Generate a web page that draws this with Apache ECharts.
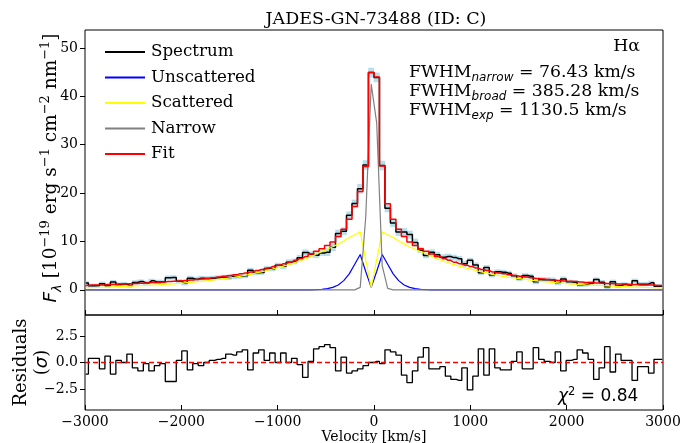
<!DOCTYPE html>
<html><head><meta charset="utf-8">
<script src="https://cdn.jsdelivr.net/npm/echarts@6/dist/echarts.min.js"></script>
<style>html,body{margin:0;padding:0;background:#fff}#c{width:698px;height:443px}</style>
</head><body><div id="c"></div>
<script>
const velocity = [
-2993,-2936,-2879,-2822,-2765,-2708,-2651,-2594,-2537,-2480,
-2423,-2366,-2309,-2252,-2195,-2138,-2081,-2024,-1967,-1910,
-1853,-1796,-1739,-1682,-1625,-1568,-1511,-1454,-1397,-1340,
-1283,-1226,-1169,-1112,-1055,-998,-941,-884,-827,-770,
-713,-656,-599,-542,-485,-428,-371,-314,-257,-200,
-143,-86,-29,28,85,142,199,256,313,370,
427,484,541,598,655,712,769,826,883,940,
997,1054,1111,1168,1225,1282,1339,1396,1453,1510,
1567,1624,1681,1738,1795,1852,1909,1966,2023,2080,
2137,2194,2251,2308,2365,2422,2479,2536,2593,2650,
2707,2764,2821,2878,2935,2992];

const spectrum = [
1.4,0.82,0.82,1.27,0.83,1.6,1.11,1.2,0.89,1.53,
1.71,1.45,1.86,1.64,1.65,2.51,2.56,1.76,1.4,2.4,
2.2,2.4,2.35,2.4,2.5,2.6,2.55,2.75,2.8,2.9,
4.05,3.55,3.6,4.4,4.35,5.1,4.86,5.7,5.86,6.62,
7.74,7.34,7.17,7.6,7.79,8.78,11.64,12.1,15.4,17.84,
20.9,25.8,44.9,43.9,25.7,16.84,13.8,11.94,11.96,11.42,
9.79,8.2,7.11,7.76,7.26,6.74,6.88,6.66,6.42,5.4,
6.1,5.15,3.55,4.6,3.05,3.75,3.65,3.45,2.9,2.3,
2.95,2.8,1.65,2.1,2.1,2.05,1.45,2.25,1.66,1.56,
1.06,1.1,1.36,2.12,1.58,0.62,1.65,0.84,1.11,1.01,
1.87,1.18,1.18,1.45,0.76,0.76];

const errorSigma = [
0.45,0.45,0.45,0.45,0.45,0.45,0.45,0.45,0.45,0.45,
0.45,0.45,0.45,0.45,0.45,0.45,0.45,0.45,0.5,0.5,
0.5,0.5,0.5,0.5,0.5,0.5,0.5,0.5,0.5,0.5,
0.5,0.5,0.5,0.5,0.5,0.5,0.6,0.6,0.6,0.6,
0.6,0.6,0.6,0.6,0.8,0.8,0.8,0.8,0.8,0.8,
1.0,1.0,1.0,1.0,1.0,0.8,0.8,0.8,0.8,0.8,
0.8,0.6,0.6,0.6,0.6,0.6,0.6,0.6,0.6,0.6,
0.5,0.5,0.5,0.5,0.5,0.5,0.5,0.5,0.5,0.5,
0.5,0.5,0.5,0.5,0.5,0.5,0.5,0.5,0.45,0.45,
0.45,0.45,0.45,0.45,0.45,0.45,0.45,0.45,0.45,0.45,
0.45,0.45,0.45,0.45,0.45,0.45];

const unscattered = [
0,0,0,0,0,0,0,0,0,0,
0,0,0,0,0,0,0,0,0,0,
0,0,0,0,0,0,0,0,0,0,
0,0,0,0,0,0,0,0,0,0,
0,0,0.04,0.1,0.25,0.5,1.0,1.9,3.3,5.3,
7.3,3.8,0.5,3.8,7.3,5.3,3.3,1.9,1.0,0.5,
0.25,0.1,0.04,0,0,0,0,0,0,0,
0,0,0,0,0,0,0,0,0,0,
0,0,0,0,0,0,0,0,0,0,
0,0,0,0,0,0,0,0,0,0,
0,0,0,0,0,0];

const scattered = [
0.44,0.47,0.5,0.54,0.58,0.62,0.66,0.7,0.75,0.8,
0.85,0.91,0.97,1.03,1.1,1.17,1.25,1.35,1.45,1.55,
1.65,1.75,1.85,2.0,2.15,2.3,2.45,2.6,2.8,3.0,
3.2,3.5,3.7,4.0,4.3,4.6,4.9,5.2,5.6,6.0,
6.4,6.9,7.4,7.9,8.4,8.9,9.5,10.1,10.8,11.4,
12.0,6.2,0.5,6.2,12.0,11.4,10.8,10.1,9.5,8.9,
8.4,7.9,7.4,6.9,6.4,6.0,5.6,5.2,4.9,4.6,
4.3,4.0,3.7,3.5,3.2,3.0,2.8,2.6,2.45,2.3,
2.15,2.0,1.85,1.75,1.65,1.55,1.45,1.35,1.25,1.17,
1.1,1.03,0.97,0.91,0.85,0.8,0.75,0.7,0.66,0.62,
0.58,0.54,0.5,0.47,0.44,0.41];

const narrow = [
0,0,0,0,0,0,0,0,0,0,
0,0,0,0,0,0,0,0,0,0,
0,0,0,0,0,0,0,0,0,0,
0,0,0,0,0,0,0,0,0,0,
0,0,0,0,0,0,0,0,0,0,
0.5,15,42.5,34.5,5,0.3,0,0,0,0,
0,0,0,0,0,0,0,0,0,0,
0,0,0,0,0,0,0,0,0,0,
0,0,0,0,0,0,0,0,0,0,
0,0,0,0,0,0,0,0,0,0,
0,0,0,0,0,0];

const fit = [
0.9,1.0,1.0,1.0,1.1,1.1,1.2,1.2,1.25,1.3,
1.35,1.4,1.5,1.5,1.6,1.7,1.75,1.85,1.95,2.05,
2.15,2.25,2.35,2.5,2.65,2.8,2.95,3.1,3.3,3.5,
3.7,4.0,4.2,4.5,4.8,5.1,5.4,5.7,6.1,6.5,
6.9,7.4,7.95,8.5,9.15,9.9,11.0,12.5,14.6,17.2,
20.3,25.5,44.9,44.0,25.6,17.8,14.6,12.5,11.0,9.9,
9.15,8.5,7.95,7.4,6.9,6.5,6.1,5.7,5.4,5.1,
4.8,4.5,4.2,4.0,3.7,3.5,3.3,3.1,2.95,2.8,
2.65,2.5,2.35,2.25,2.15,2.05,1.95,1.85,1.75,1.7,
1.6,1.5,1.5,1.4,1.35,1.3,1.25,1.2,1.2,1.1,
1.1,1.0,1.0,1.0,0.9,0.9];

const residuals = [
-1.1,0.4,0.4,-0.6,0.6,-1.1,0.2,0.0,0.8,-0.5,
-0.8,-0.1,-0.8,-0.3,-0.1,-1.8,-1.8,0.2,1.1,-0.7,
-0.1,-0.3,0.0,0.2,0.3,0.4,0.8,0.7,1.0,1.2,
-0.7,0.9,1.2,0.2,0.9,0.0,0.9,0.0,0.4,-0.2,
-1.4,0.1,1.3,1.5,1.7,1.4,-0.8,0.5,-1.0,-0.8,
-0.6,-0.3,0.0,0.1,-0.1,1.2,1.0,0.7,-1.2,-1.9,
-0.8,0.5,1.4,-0.6,-0.6,-0.4,-1.3,-1.6,-1.7,-0.5,
-2.6,-1.3,1.3,-1.2,1.3,-0.5,-0.7,-0.7,0.1,1.0,
-0.6,-0.6,1.4,0.3,0.1,0.0,1.0,-0.8,0.2,0.3,
1.2,0.9,0.3,-1.6,-0.5,1.5,-0.9,0.8,0.2,0.2,
-1.7,-0.4,-0.4,-1.0,0.3,0.3];

const mainYTicks = [0, 10, 20, 30, 40, 50];
const residYTicks = [-2.5, 0, 2.5];
const legendNames = ['Spectrum', 'Unscattered', 'Scattered', 'Narrow', 'Fit'];
const titleText = 'JADES-GN-73488 (ID: C)';
const chi2Text = '0.84';
const fwhmNarrow = '76.43', fwhmBroad = '385.28', fwhmExp = '1130.5';

const SERIF = 'DejaVu Serif', SANS = 'DejaVu Sans';
const pair = ys => velocity.map((v, i) => [v, ys[i]]);
const minus = s => String(s).replace('-', '\u2212');

// step-bin edges (midpoints between neighbouring samples, like matplotlib where='mid')
const edges = velocity.map((v, i) => {
  const l = i === 0 ? v : (velocity[i - 1] + v) / 2;
  const r = i === velocity.length - 1 ? v : (velocity[i + 1] + v) / 2;
  return [l, r];
});
const bandData = velocity.map((v, i) => [v, spectrum[i] - errorSigma[i], spectrum[i] + errorSigma[i], edges[i][0], edges[i][1]]);

const chart = echarts.init(document.getElementById('c'), null, {renderer: 'canvas'});

const lineSeries = (name, ys, color, width, step, z) => ({
  name, type: 'line', data: pair(ys), step: step ? 'middle' : false,
  showSymbol: false, symbol: 'none', z: z,
  xAxisIndex: 0, yAxisIndex: 0,
  itemStyle: {color}, lineStyle: {color, width}, silent: true
});

const FS = 16.7;
const YL = 18.5;
const supRich = {
  sup: {fontFamily: SERIF, fontSize: 13, lineHeight: 12, verticalAlign: 'top', color: '#000'},
  it: {fontFamily: SANS, fontStyle: 'italic', fontSize: YL, lineHeight: 25, color: '#000'},
  sub: {fontFamily: SANS, fontStyle: 'italic', fontSize: 13, lineHeight: 12, verticalAlign: 'bottom', color: '#000'},
  n: {fontFamily: SERIF, fontSize: YL, lineHeight: 25, color: '#000'}
};
const annRich = {
  n: {fontFamily: SERIF, fontSize: 17.3, lineHeight: 21, fill: '#000'},
  s: {fontFamily: SANS, fontStyle: 'italic', fontSize: 12, lineHeight: 11, verticalAlign: 'bottom', fill: '#000'}
};

const option = {
  animation: false,
  backgroundColor: '#fff',
  title: {
    text: titleText, left: 371, top: 5, textAlign: 'center',
    textStyle: {fontFamily: SERIF, fontSize: 17.5, fontWeight: 'normal', color: '#000'}
  },
  legend: {
    data: legendNames, orient: 'vertical', left: 100, top: 37.5,
    icon: 'rect', itemWidth: 40, itemHeight: 2, itemGap: 6.5,
    textStyle: {fontFamily: SERIF, fontSize: FS, color: '#000', lineHeight: 19, padding: [0, 0, 0, 1]},
    selectedMode: false
  },
  grid: [
    {left: 85, top: 30, width: 578, height: 285, show: true, borderColor: '#000', borderWidth: 1,
     backgroundColor: 'transparent', containLabel: false, outerBoundsMode: 'none'},
    {left: 85, top: 315, width: 578, height: 95, show: true, borderColor: '#000', borderWidth: 1,
     backgroundColor: 'transparent', containLabel: false, outerBoundsMode: 'none'}
  ],
  xAxis: [
    {gridIndex: 0, type: 'value', min: -3000, max: 3000, interval: 1000,
     axisLine: {show: false, onZero: false}, axisTick: {show: true, inside: true, length: 5, lineStyle: {color: '#000'}},
     axisLabel: {show: false}, splitLine: {show: false}},
    {gridIndex: 1, type: 'value', min: -3000, max: 3000, interval: 1000,
     name: 'Velocity [km/s]', nameLocation: 'middle', nameGap: 20,
     nameTextStyle: {fontFamily: SERIF, fontSize: 14, color: '#000'},
     axisLine: {show: false, onZero: false}, axisTick: {show: true, inside: true, length: 5, lineStyle: {color: '#000'}},
     axisLabel: {fontFamily: SERIF, fontSize: 14, color: '#000', margin: 5, formatter: v => minus(v)},
     splitLine: {show: false}}
  ],
  yAxis: [
    {gridIndex: 0, type: 'value', min: -5.2, max: 53.7,
     axisLine: {show: false, onZero: false},
     axisTick: {show: true, inside: false, length: 5, customValues: mainYTicks, lineStyle: {color: '#000'}},
     axisLabel: {customValues: mainYTicks, fontFamily: SERIF, fontSize: 14, color: '#000', margin: 7},
     splitLine: {show: false},
     name: '{it|F}{sub|λ}{n| [10}{sup|−19}{n| erg s}{sup|−1}{n| cm}{sup|−2}{n| nm}{sup|−1}{n|]}',
     nameLocation: 'middle', nameRotate: 90, nameGap: 21, nameMoveOverlap: false,
     nameTextStyle: {fontFamily: SERIF, fontSize: YL, color: '#000', lineHeight: 25, padding: [0, 0, 0, 9], rich: supRich}},
    {gridIndex: 1, type: 'value', min: -4.5, max: 4.5,
     axisLine: {show: false, onZero: false},
     axisTick: {show: true, inside: false, length: 5, customValues: residYTicks, lineStyle: {color: '#000'}},
     axisLabel: {customValues: residYTicks, fontFamily: SERIF, fontSize: 14, color: '#000', margin: 7,
                 formatter: v => minus(Number(v).toFixed(1))},
     splitLine: {show: false},
     name: '{n|Residuals}\n{n|(}{it|σ}{n|)}',
     nameLocation: 'middle', nameRotate: 90, nameGap: 32, nameMoveOverlap: false,
     nameTextStyle: {fontFamily: SERIF, fontSize: 18, color: '#000', lineHeight: 21,
       rich: {n: {fontFamily: SERIF, fontSize: 18, lineHeight: 21, color: '#000'},
              it: {fontFamily: SANS, fontStyle: 'italic', fontSize: 18, lineHeight: 21, color: '#000'}}}}
  ],
  series: [
    {name: 'errBand', type: 'custom', xAxisIndex: 0, yAxisIndex: 0, data: bandData, clip: true, silent: true, z: 1,
     encode: {x: [0, 3, 4], y: [1, 2]},
     renderItem: (params, api) => {
       const p1 = api.coord([api.value(3), api.value(2)]);
       const p2 = api.coord([api.value(4), api.value(1)]);
       return {type: 'rect', shape: {x: p1[0] - 0.3, y: p1[1], width: p2[0] - p1[0] + 0.6, height: p2[1] - p1[1]},
               style: {fill: 'rgba(173,216,230,0.85)', stroke: null}};
     }},
    lineSeries('Spectrum', spectrum, '#000000', 1.5, true, 2),
    lineSeries('Unscattered', unscattered, '#0000ff', 1.2, false, 3),
    lineSeries('Scattered', scattered, '#ffff00', 1.2, false, 4),
    lineSeries('Narrow', narrow, '#808080', 1.2, false, 5),
    lineSeries('Fit', fit, '#ff0000', 1.5, true, 6),
    {name: 'Residuals', type: 'line', xAxisIndex: 1, yAxisIndex: 1, step: 'middle',
     symbol: 'none', showSymbol: false, data: pair(residuals),
     itemStyle: {color: '#000'}, lineStyle: {color: '#000', width: 1.3}, silent: true, z: 3,
     markLine: {symbol: 'none', silent: true, label: {show: false},
       lineStyle: {color: '#ff0000', type: [5, 3], width: 1.3},
       data: [{yAxis: 0}]}}
  ],
  graphic: [
    {type: 'text', z: 100, x: 640, y: 47, style: {text: 'Hα', fontFamily: SERIF, fontSize: 17.3, fill: '#000', align: 'right', verticalAlign: 'middle'}},
    {type: 'text', z: 100, x: 409, y: 73, style: {text: '{n|FWHM}{s|narrow}{n| = ' + fwhmNarrow + ' km/s}', align: 'left', verticalAlign: 'middle', rich: annRich}},
    {type: 'text', z: 100, x: 409, y: 92, style: {text: '{n|FWHM}{s|broad}{n| = ' + fwhmBroad + ' km/s}', align: 'left', verticalAlign: 'middle', rich: annRich}},
    {type: 'text', z: 100, x: 409, y: 111, style: {text: '{n|FWHM}{s|exp}{n| = ' + fwhmExp + ' km/s}', align: 'left', verticalAlign: 'middle', rich: annRich}},
    {type: 'text', z: 100, x: 558, y: 397, style: {text: '{c|χ}{p|2}{n| = ' + chi2Text + '}', align: 'left', verticalAlign: 'middle',
      rich: {c: {fontFamily: SANS, fontStyle: 'italic', fontSize: 17, lineHeight: 22, fill: '#000'},
             p: {fontFamily: SANS, fontSize: 11.5, lineHeight: 12, verticalAlign: 'top', fill: '#000'},
             n: {fontFamily: SANS, fontSize: 17, lineHeight: 22, fill: '#000'}}}}
  ]
};
chart.setOption(option);
</script>
</body></html>
